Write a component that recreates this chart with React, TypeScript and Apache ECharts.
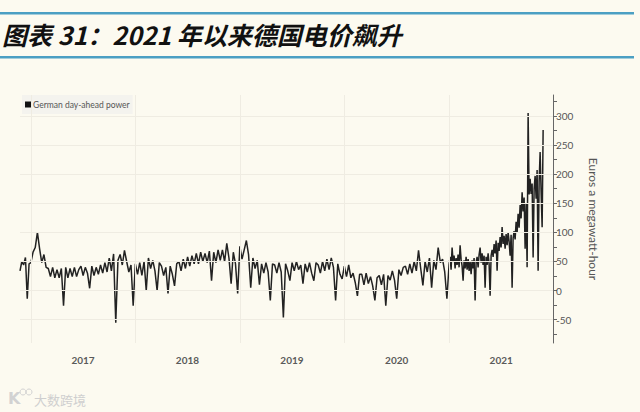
import React, { useEffect, useRef } from "react";
import * as echarts from "echarts";

const titleText = "图表 31：2021 年以来德国电价飙升";
const seriesName = "German day-ahead power";
const axisName = "Euros a megawatt-hour";
const watermark = "大数跨境";

// German day-ahead prices (EUR/MWh)
const values2016 = [34, 50, 44, 57, -14, 46];
const values2017 = [
  48, 66, 74, 100, 72, 48, 62, 40, 38, 24, 40, 22,
  36, 22, 38, -26, 40, 22, 38, 24, 40, 24, 36, 42,
  26, 40, 30, 4, 42, 26, 40, 28, 44, 30, 48, 32,
  56, 34, 63, -55, 52, 62, 44, 69, 50, 32, 44, -26,
];
const values2018 = [
  46, 28, 48, 26, 50, 0, 56, 38, 52, 34, 0, 48,
  42, 26, 40, -5, 42, 28, 8, 46, 50, 34, 54, 38,
  58, 42, 60, 46, 64, 46, 66, 50, 64, 48, 68, 17,
  66, 48, 70, 52, 70, 50, 81, 56, 12, 66, 46, -5,
];
const values2019 = [
  76, 54, 70, 86, 62, 5, 56, 38, 52, 10, 46, 30,
  48, 32, -17, 46, 44, 30, 48, 32, -46, 46, 34, 17,
  48, 34, 50, 36, 44, 12, 46, 32, 48, 30, 17, 48,
  44, 30, 50, 34, 54, 36, 56, 40, -17, 46, 28, 20,
];
const values2020 = [
  42, 24, 44, 22, 30, 14, -9, 28, 28, 10, 30, 12,
  24, 8, -17, 22, 26, 10, 28, -26, 26, 18, 34, 18,
  -14, 36, 26, 40, 42, 28, 46, 30, 50, 34, 69, 38,
  9, 50, 32, 56, 5, 52, 36, 74, 48, 54, 32, -14,
];
const values2021 = [
  45, 58, 36, 74, 50, 60, 38, 56, 44, 62, 40, 78, 54, 42, 17, 52,
  38, 58, 36, 54, 34, 50, 28, 52, 38, 56, -17, 48, 58, 40, 62, 74,
  48, 64, 44, 60, 5, 58, 44, 64, 46, -9, 60, 70, 58, 80, 64, 86,
  34, 82, 68, 92, 74, 109, 80, 94, 72, 97, 78, 100, 84, 60, 96, 5,
  90, 102, 88, 118, 100, 132, 108, 147, 124, 169, 136, 160, 72, 150, 40, 305,
  165, 192, 166, 184, 57, 175, 197, 158, 207, 34, 187, 238, 168, 109, 276,
];

// Segments: [start date, end date, values]
const segments: [string, string, number[]][] = [
  ["2016-11-24", "2017-01-01", values2016],
  ["2017-01-01", "2018-01-01", values2017],
  ["2018-01-01", "2019-01-01", values2018],
  ["2019-01-01", "2020-01-01", values2019],
  ["2020-01-01", "2021-01-01", values2020],
  ["2021-01-01", "2021-11-29", values2021],
];

const yearLabels = [2017, 2018, 2019, 2020, 2021];
const yearBoundaries = ["2017-01-01", "2018-01-01", "2019-01-01", "2020-01-01", "2021-01-01"];
const yTickLabels = [-50, 0, 50, 100, 150, 200, 250, 300];
const yMinorTicks = [-75, -50, -25, 0, 25, 50, 75, 100, 125, 150, 175, 200, 225, 250, 275, 300, 325];

const ts = (d: string) => Date.parse(d + "T00:00:00Z");

function buildData(): [number, number][] {
  const out: [number, number][] = [];
  for (const [s, e, vals] of segments) {
    const t0 = ts(s);
    const t1 = ts(e);
    const step = (t1 - t0) / vals.length;
    vals.forEach((v, i) => out.push([t0 + i * step, v]));
  }
  return out;
}

export default function App() {
  const ref = useRef<HTMLDivElement>(null);
  useEffect(() => {
    if (!ref.current) return;
    const chart = echarts.init(ref.current, undefined, { renderer: "svg" });
    const data = buildData();
    const midYears = yearLabels.map((y) => ts(`${y}-07-02`));
    const font = "Lato, 'Open Sans', sans-serif";
    chart.setOption({
      animation: false,
      backgroundColor: "#fcfaf0",
      graphic: [
        {
          type: "rect",
          id: "ruleTop",
          z: 20,
          shape: { x: 0, y: 12, width: 634, height: 2.5 },
          style: { fill: "#4b9fc3" },
        },
        {
          type: "text",
          id: "titleText",
          x: 2,
          y: 34,
          z: 10,
          style: {
            text: titleText,
            fill: "#111",
            font: "italic bold 25px 'Noto Sans CJK SC', sans-serif",
            verticalAlign: "middle",
          },
        },
        {
          type: "rect",
          id: "ruleBottom",
          z: 10,
          shape: { x: 0, y: 56, width: 634, height: 2.5 },
          style: { fill: "#4b9fc3" },
        },
        {
          type: "text",
          x: 8,
          y: 398,
          style: { text: "K", fill: "#d2d2d2", font: "bold 16px 'DejaVu Sans', sans-serif", verticalAlign: "middle" },
        },
        { type: "circle", shape: { cx: 23, cy: 392, r: 3 }, style: { stroke: "#d2d2d2", fill: "none", lineWidth: 1 } },
        { type: "circle", shape: { cx: 29, cy: 392, r: 3 }, style: { stroke: "#d2d2d2", fill: "none", lineWidth: 1 } },
        {
          type: "text",
          x: 34,
          y: 399,
          style: { text: watermark, fill: "#cfcfcf", font: "13px 'Noto Sans CJK SC', sans-serif", verticalAlign: "middle" },
        },
      ],
      legend: {
        show: true,
        data: [seriesName],
        left: 22,
        top: 95,
        orient: "horizontal",
        icon: "rect",
        itemWidth: 6,
        itemHeight: 6,
        itemGap: 2,
        padding: [5, 3, 5, 3],
        backgroundColor: "#f4f3ee",
        textStyle: { fontSize: 8.5, color: "#555", fontFamily: font, padding: [0, 0, 0, -3] },
      },
      grid: { left: 20, right: 87, top: 95, bottom: 69, containLabel: false },
      xAxis: {
        type: "value",
        min: ts("2016-11-24"),
        max: ts("2021-12-30"),
        axisLine: { show: false },
        axisTick: { show: false },
        splitLine: { show: false },
        axisLabel: {
          customValues: midYears,
          formatter: (v: number) => String(new Date(v).getUTCFullYear()),
          fontSize: 10,
          fontWeight: "bold",
          color: "#5a5a5a",
          fontFamily: font,
          margin: 12,
        },
      },
      yAxis: {
        type: "value",
        position: "right",
        min: -90,
        max: 336,
        name: axisName,
        nameLocation: "middle",
        nameRotate: -90,
        nameGap: 34,
        nameTextStyle: { fontSize: 12, color: "#555", fontFamily: font },
        axisLine: { show: true, lineStyle: { color: "#666", width: 1 } },
        axisTick: { show: true, length: 4, customValues: yMinorTicks, lineStyle: { color: "#666" } },
        splitLine: { show: false },
        axisLabel: {
          customValues: yTickLabels,
          fontSize: 10,
          color: "#555",
          fontFamily: font,
          margin: 3,
        },
      },
      series: [
        {
          name: "grid",
          type: "line",
          data: [],
          z: 1,
          silent: true,
          markLine: {
            silent: true,
            symbol: "none",
            label: { show: false },
            lineStyle: { color: "#efece2", width: 1, type: "solid" },
            emphasis: { disabled: true },
            data: [
              ...yTickLabels.map((v) => ({ yAxis: v })),
              ...yearBoundaries.map((d) => ({ xAxis: ts(d) })),
            ],
          },
        },
        {
          name: seriesName,
          type: "line",
          data,
          z: 3,
          showSymbol: false,
          symbol: "none",
          itemStyle: { color: "#111" },
          lineStyle: { color: "#222", width: 1.5 },
        },
      ],
    });
    return () => chart.dispose();
  }, []);
  return <div ref={ref} style={{ position: "fixed", left: 0, top: 0, width: 640, height: 412 }} />;
}
